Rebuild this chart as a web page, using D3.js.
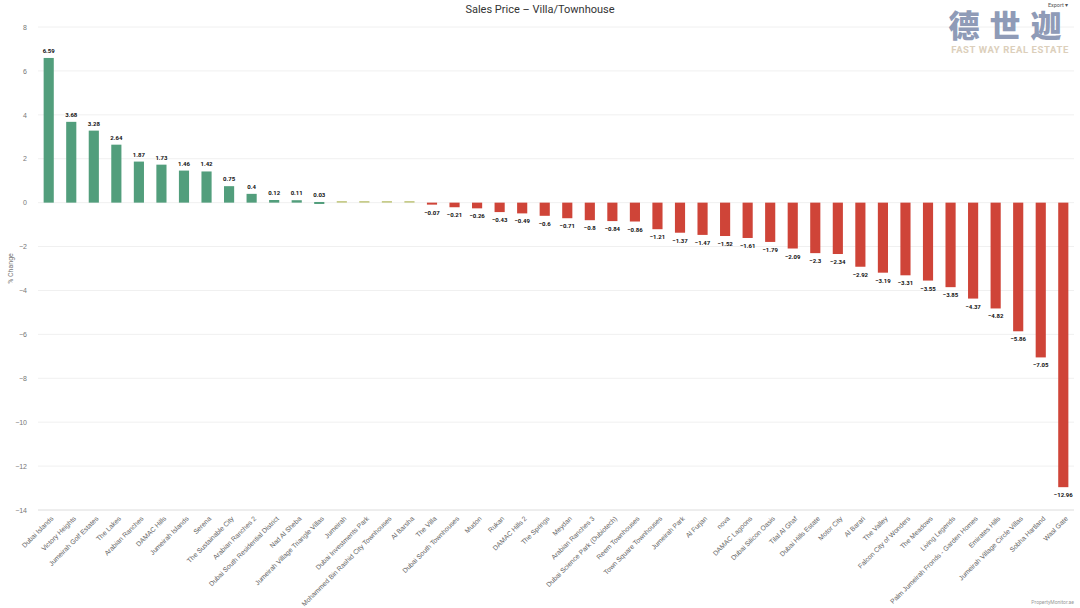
<!DOCTYPE html>
<html lang="en">
<head>
  <meta charset="UTF-8">
  <title>Sales Price - Villa/Townhouse</title>
  <script src="https://cdn.jsdelivr.net/npm/d3@7/dist/d3.min.js"></script>
  <style>
    body { margin:0; background:#fff; }
    svg { display:block; font-family:Roboto,"Liberation Sans",sans-serif; }
  </style>
</head>
<body>
<script>
// chart data
var areas = [
  'Dubai Islands','Victory Heights','Jumeirah Golf Estates','The Lakes','Arabian Ranches',
  'DAMAC Hills','Jumeirah Islands','Serena','The Sustainable City','Arabian Ranches 2',
  'Dubai South Residential District','Nad Al Sheba','Jumeirah Village Triangle Villas','Jumeirah',
  'Dubai Investments Park','Mohammed Bin Rashid City Townhouses','Al Barsha','The Villa',
  'Dubai South Townhouses','Mudon','Rukan','DAMAC Hills 2','The Springs','Meydan',
  'Arabian Ranches 3','Dubai Science Park (Dubiotech)','Reem Townhouses','Town Square Townhouses',
  'Jumeirah Park','Al Furjan','nova','DAMAC Lagoons','Dubai Silicon Oasis','Tilal Al Ghaf',
  'Dubai Hills Estate','Motor City','Al Barari','The Valley','Falcon City of Wonders',
  'The Meadows','Living Legends','Palm Jumeirah Fronds - Garden Homes','Emirates Hills',
  'Jumeirah Village Circle Villas','Sobha Hartland','Wasl Gate'
];
var change = [
  6.59,3.68,3.28,2.64,1.87,1.73,1.46,1.42,0.75,0.4,
  0.12,0.11,0.03,0,0,0,0,-0.07,-0.21,-0.26,
  -0.43,-0.49,-0.6,-0.71,-0.8,-0.84,-0.86,-1.21,-1.37,-1.47,
  -1.52,-1.61,-1.79,-2.09,-2.3,-2.34,-2.92,-3.19,-3.31,-3.55,
  -3.85,-4.37,-4.82,-5.86,-7.05,-12.96
];
var yTicks = [8,6,4,2,0,-2,-4,-6,-8,-10,-12,-14];

var W = 1080, H = 608;
var m = {top:27, right:6, bottom:98, left:38};

var data = areas.map(function(a,i){ return {name:a, v:change[i]}; });

var svg = d3.select('body').append('svg').attr('width',W).attr('height',H);

var x = d3.scaleBand().domain(areas).range([m.left, W-m.right]).paddingInner(0.55).paddingOuter(0.25);
var y = d3.scaleLinear().domain([-14,8]).range([H-m.bottom, m.top]);

// gridlines
svg.append('g').selectAll('line').data(yTicks).enter().append('line')
  .attr('x1',m.left).attr('x2',W-m.right)
  .attr('y1',function(d){return y(d);}).attr('y2',function(d){return y(d);})
  .attr('stroke',function(d){return d===-14 ? '#dcdcdc' : '#f0f0f0';}).attr('stroke-width',1);

// y axis
var ya = svg.append('g').attr('transform','translate('+(m.left-8)+',0)')
  .call(d3.axisLeft(y).tickValues(yTicks).tickSize(0).tickFormat(function(d){return d<0 ? '\u2212'+(-d) : d;}));
ya.select('.domain').remove();
ya.selectAll('text').attr('fill','#777').style('font-size','7px');

svg.append('text').attr('transform','translate(13,'+(y(-3))+') rotate(-90)')
  .attr('text-anchor','middle').attr('fill','#777').style('font-size','7px').text('% Change');

// bars
function col(v){ return v>0 ? '#529e7c' : (v<0 ? '#cf4438' : '#bfc57a'); }
svg.append('g').selectAll('rect').data(data).enter().append('rect')
  .attr('x',function(d){return x(d.name);})
  .attr('width',x.bandwidth())
  .attr('y',function(d){ return d.v===0 ? y(0)-1.5 : Math.min(y(d.v), y(0)); })
  .attr('height',function(d){ return d.v===0 ? 1.5 : Math.max(Math.abs(y(d.v)-y(0)), 2); })
  .attr('fill',function(d){return col(d.v);});

// value labels
svg.append('g').selectAll('text').data(data.filter(function(d){return d.v!==0;})).enter().append('text')
  .attr('x',function(d){return x(d.name)+x.bandwidth()/2;})
  .attr('y',function(d){ return d.v>0 ? y(d.v)-5 : Math.max(y(d.v), y(0)+2)+10; })
  .attr('text-anchor','middle').attr('fill','#111').style('font-size','6px').style('font-weight','bold')
  .text(function(d){ return d.v<0 ? '\u2212'+(-d.v) : d.v; });

// x labels
var xa = svg.append('g').attr('transform','translate(0,'+(H-m.bottom)+')')
  .call(d3.axisBottom(x).tickSize(0));
xa.select('.domain').remove();
xa.selectAll('text').attr('fill','#666').style('font-size','6.8px')
  .attr('text-anchor','end').attr('dx','0').attr('dy','0')
  .attr('transform','translate(3,7) rotate(-45)');

// title
svg.append('text').attr('x',540).attr('y',13).attr('text-anchor','middle')
  .attr('fill','#333').style('font-size','11px').text('Sales Price \u2013 Villa/Townhouse');

// watermark
svg.append('text').attr('x',1010).attr('y',37).attr('text-anchor','middle')
  .attr('fill','#8f9bb7').style('font-family','"Noto Sans CJK SC"').style('font-weight','900')
  .style('font-size','31px').attr('letter-spacing','10').text('德世迦');
svg.append('text').attr('x',1010).attr('y',53).attr('text-anchor','middle')
  .attr('fill','#dccfbb').style('font-weight','bold').attr('letter-spacing','0.6')
  .style('font-size','9.5px').text('FAST WAY REAL ESTATE');
svg.append('text').attr('x',1058).attr('y',7).attr('text-anchor','middle')
  .attr('fill','#555').style('font-size','5.5px').text('Export \u25be');

svg.append('text').attr('x',1074).attr('y',604).attr('text-anchor','end')
  .attr('fill','#999').style('font-size','5px').text('PropertyMonitor.ae');
</script>
</body>
</html>
